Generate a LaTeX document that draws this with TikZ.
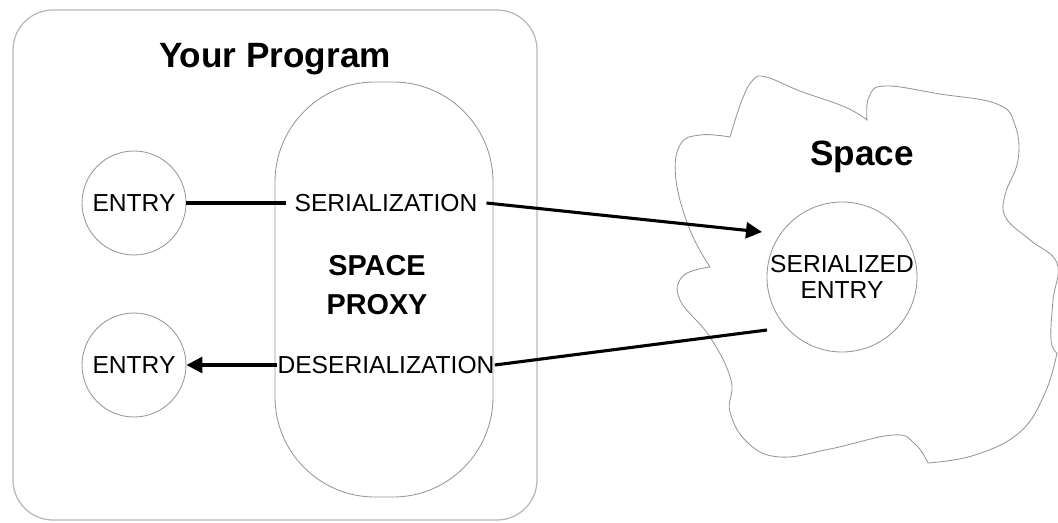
\documentclass[tikz,border=0pt]{standalone}
\usepackage{fontspec}
\setmainfont{Liberation Sans}
\usetikzlibrary{
  arrows.meta
}
\definecolor{outline}{RGB}{150,150,150}
\definecolor{boxline}{RGB}{185,185,185}
\newcommand{\lblfont}{\fontsize{17.5}{20}\selectfont}
\newcommand{\headfont}{\fontsize{25}{30}\selectfont\bfseries}
\newcommand{\proxyfont}{\fontsize{20.5}{24}\selectfont\bfseries}
\tikzset{
  progbox/.style={draw=boxline,line width=0.9pt,rounded corners=10mm,
    minimum width=131mm,minimum height=127.5mm},
  proxybox/.style={draw=outline,line width=0.6pt,rounded corners=25mm,
    minimum width=54.5mm,minimum height=103.75mm},
  entrycirc/.style={circle,draw=outline,line width=0.6pt,inner sep=0pt,
    minimum size=26mm,font=\lblfont},
  stepname/.style={font=\lblfont,inner ysep=1pt},
  cloudline/.style={draw=outline,line width=0.6pt},
  link/.style={line width=2.2pt},
  flow/.style={link,-{Triangle[length=4mm,width=4mm]}}
}

\begin{document}
\begin{tikzpicture}[x=0.25mm,y=-0.25mm]
  \useasboundingbox (0,0) rectangle (1058,523);

  % your program side
  \node[progbox] (prog) at (275,265) {};
  \node[anchor=base,font=\headfont] (progtitle) at (275,68) {Your Program};
  \node[proxybox] (proxy) at (384,289.5) {};
  \node[font=\proxyfont,align=center] (proxytext) at (377,285) {SPACE\\[1.5mm]PROXY};

  \node[entrycirc] (entryin) at (134,203) {ENTRY};
  \node[entrycirc] (entryout) at (134,365) {ENTRY};
  \node[stepname,inner xsep=2.2mm] (serial) at (386,203) {SERIALIZATION};
  \node[stepname,inner xsep=0pt] (deser) at (386,365) {DESERIALIZATION};

  % the space
  \draw[cloudline]
    plot[smooth,tension=0.7] coordinates {(730,137) (742,100) (753,80)
      (766,77) (800,91) (845,107) (867,120)}
    -- plot[smooth,tension=0.7] coordinates {(867,120) (869,97) (885,86)
      (940,94) (997,104) (1015,125) (1018,160) (1005,195) (1006,218)
      (1030,240) (1057,263) (1053,300) (1051,340) (1057,353)}
    -- plot[smooth,tension=0.7] coordinates {(1057,353) (1045,393)
      (1020,432) (975,455) (928,463)}
    -- plot[smooth,tension=0.7] coordinates {(928,463) (915,444) (893,435)
      (830,449) (780,457) (748,443) (730,412) (731,380) (710,337) (680,300)
      (683,276) (710,267)}
    -- plot[smooth,tension=0.7] coordinates {(710,267) (690,230) (676,180)
      (680,145) (700,135) (730,137)}
    -- cycle;
  \node[anchor=base,font=\headfont] (spacetitle) at (862,166) {Space};
  \node[entrycirc,minimum size=37.5mm,align=center] (sentry) at (842,277)
    {SERIALIZED\\[-0.5mm]ENTRY};
  \coordinate (intip) at (762,232);
  \coordinate (outtail) at (767,330);

  % connectors
  \draw[link] (entryin.east) -- (serial.west);
  \draw[flow] (serial.east) -- (intip);
  \draw[link] (outtail) -- (deser.east);
  \draw[flow] (deser.west) -- (entryout.east);
\end{tikzpicture}
\end{document}
